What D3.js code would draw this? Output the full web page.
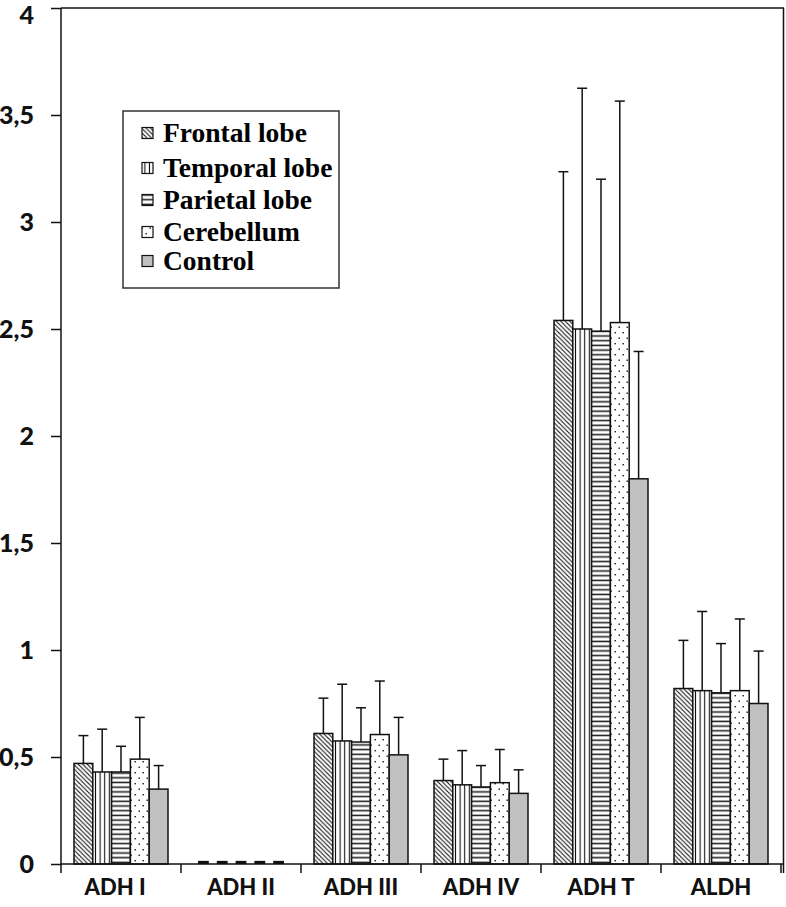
<!DOCTYPE html>
<meta charset="utf-8">
<style>
body { margin: 0; background: #fff; }
.tick text { font-family: Lato, "Open Sans", sans-serif; font-weight: 900; }
.legend text { font-family: "Liberation Serif", "DejaVu Serif", serif; font-weight: bold; font-size: 27.5px; }
</style>
<body>
<script src="https://d3js.org/d3.v7.min.js"></script>
<script>
// enzyme groups along the x axis
const categories = ["ADH I", "ADH II", "ADH III", "ADH IV", "ADH T", "ALDH"];
const series = ["Frontal lobe", "Temporal lobe", "Parietal lobe", "Cerebellum", "Control"];

// bar heights, one array per series (same order as categories)
const frontal    = [0.47, 0.01, 0.61, 0.39, 2.54, 0.82];
const temporal   = [0.43, 0.01, 0.575, 0.37, 2.50, 0.81];
const parietal   = [0.43, 0.01, 0.57, 0.36, 2.49, 0.80];
const cerebellum = [0.49, 0.01, 0.605, 0.38, 2.53, 0.81];
const control    = [0.35, 0.01, 0.51, 0.33, 1.80, 0.75];

// top of the (upward) error bar, null = no error bar
const frontalErr    = [0.60, null, 0.775, 0.49, 3.235, 1.045];
const temporalErr   = [0.63, null, 0.84, 0.53, 3.625, 1.18];
const parietalErr   = [0.55, null, 0.73, 0.46, 3.20, 1.03];
const cerebellumErr = [0.685, null, 0.855, 0.535, 3.565, 1.145];
const controlErr    = [0.46, null, 0.685, 0.44, 2.395, 0.995];

const yTicks = [0, 0.5, 1, 1.5, 2, 2.5, 3, 3.5, 4];

const values = [frontal, temporal, parietal, cerebellum, control];
const errs = [frontalErr, temporalErr, parietalErr, cerebellumErr, controlErr];

const W = 786, H = 907;
const mLeft = 61, mRight = 781, mTop = 8, mBottom = 864;

const svg = d3.select("body").append("svg")
    .attr("width", W).attr("height", H);

// fill patterns
const defs = svg.append("defs");
const p1 = defs.append("pattern").attr("id", "pat0")
    .attr("patternUnits", "userSpaceOnUse").attr("width", 4.5).attr("height", 4.5);
p1.append("rect").attr("width", 4.5).attr("height", 4.5).attr("fill", "#fff");
p1.append("path").attr("d", "M-1,-1 L5.5,5.5 M-1,3.5 L1,5.5 M3.5,-1 L5.5,1")
    .attr("stroke", "#111").attr("stroke-width", 1.1);

const p2 = defs.append("pattern").attr("id", "pat1")
    .attr("patternUnits", "userSpaceOnUse").attr("width", 4.6).attr("height", 10);
p2.append("rect").attr("width", 4.6).attr("height", 10).attr("fill", "#fff");
p2.append("line").attr("x1", 2.3).attr("x2", 2.3).attr("y1", 0).attr("y2", 10)
    .attr("stroke", "#111").attr("stroke-width", 1.1);

const p3 = defs.append("pattern").attr("id", "pat2")
    .attr("patternUnits", "userSpaceOnUse").attr("width", 10).attr("height", 4.7);
p3.append("rect").attr("width", 10).attr("height", 4.7).attr("fill", "#fff");
p3.append("line").attr("x1", 0).attr("x2", 10).attr("y1", 2.3).attr("y2", 2.3)
    .attr("stroke", "#222").attr("stroke-width", 1.6);

const p4 = defs.append("pattern").attr("id", "pat3")
    .attr("patternUnits", "userSpaceOnUse").attr("width", 8).attr("height", 11);
p4.append("rect").attr("width", 8).attr("height", 11).attr("fill", "#fff");
p4.append("rect").attr("x", 1.5).attr("y", 2).attr("width", 1.4).attr("height", 1.4).attr("fill", "#111");
p4.append("rect").attr("x", 5.5).attr("y", 7.5).attr("width", 1.4).attr("height", 1.4).attr("fill", "#111");

const fills = ["url(#pat0)", "url(#pat1)", "url(#pat2)", "url(#pat3)", "#c0c0c0"];

// scales
const x0 = d3.scaleBand().domain(categories).range([mLeft, mRight]);
const x1 = d3.scaleBand().domain(series).range([13, 107]);
const y = d3.scaleLinear().domain([0, 4]).range([mBottom, mTop]);

// frame: top and right lines
svg.append("line").attr("x1", mLeft).attr("x2", 784).attr("y1", mTop).attr("y2", mTop)
    .attr("stroke", "#111").attr("stroke-width", 1.5);
svg.append("line").attr("x1", 783.5).attr("x2", 783.5).attr("y1", mTop).attr("y2", 873)
    .attr("stroke", "#111").attr("stroke-width", 1.5);

// y axis
const yAxis = svg.append("g").attr("transform", "translate(" + mLeft + ",0)")
    .call(d3.axisLeft(y).tickValues(yTicks).tickSize(10).tickPadding(17)
        .tickFormat(d => String(d).replace(".", ",")));
yAxis.selectAll("path, line").attr("stroke", "#111").attr("stroke-width", 1.5);
yAxis.select(".domain").attr("d", "M0," + mTop + "V" + mBottom);
yAxis.selectAll(".tick text").attr("font-size", 25).attr("fill", "#111");
yAxis.selectAll(".tick text").filter(d => d === 4).attr("dy", "0.62em");

// bars
const groups = svg.append("g").selectAll("g")
  .data(categories)
  .join("g")
    .attr("transform", d => "translate(" + x0(d) + ",0)");

groups.each(function(cat, ci) {
  const g = d3.select(this);
  series.forEach(function(s, si) {
    const v = values[si][ci];
    const e = errs[si][ci];
    const cx = x1(s) + x1.bandwidth() / 2;
    if (e != null) {
      g.append("line").attr("x1", cx).attr("x2", cx)
          .attr("y1", y(v)).attr("y2", y(e))
          .attr("stroke", "#111").attr("stroke-width", 1.5);
      g.append("line").attr("x1", cx - 5).attr("x2", cx + 5)
          .attr("y1", y(e)).attr("y2", y(e))
          .attr("stroke", "#111").attr("stroke-width", 1.5);
    }
    if (e == null) {
      // almost zero: drawn as a short dash on the baseline
      g.append("rect").attr("x", x1(s) + 4).attr("width", x1.bandwidth() - 8)
          .attr("y", y(v) - 1).attr("height", mBottom - y(v) + 1)
          .attr("fill", "#111");
    } else {
      g.append("rect").attr("x", x1(s)).attr("width", x1.bandwidth())
          .attr("y", y(v)).attr("height", mBottom - y(v))
          .attr("fill", fills[si]).attr("stroke", "#111").attr("stroke-width", 1.5);
    }
  });
});

// x axis
const xAxis = svg.append("g").attr("transform", "translate(0," + mBottom + ")")
    .call(d3.axisBottom(x0).tickSize(0).tickPadding(15));
xAxis.select(".domain").attr("d", "M" + mLeft + ",0H" + 784).attr("stroke", "#111").attr("stroke-width", 1.5);
xAxis.selectAll(".tick text").attr("font-size", 22).attr("fill", "#111");
xAxis.selectAll(".tick text").filter(d => d === "ADH I").attr("dx", -6);
xAxis.selectAll(".sep")
  .data(categories.concat([null]))
  .join("line")
    .attr("class", "sep")
    .attr("x1", (d, i) => i < categories.length ? x0(d) : mRight)
    .attr("x2", (d, i) => i < categories.length ? x0(d) : mRight)
    .attr("y1", 0).attr("y2", 9)
    .attr("stroke", "#111").attr("stroke-width", 1.5);

// legend
const legend = svg.append("g").attr("class", "legend");
legend.append("rect").attr("x", 123).attr("y", 111).attr("width", 216).attr("height", 177)
    .attr("fill", "#fff").attr("stroke", "#333").attr("stroke-width", 1.5);
const legendY = [133, 168, 200, 232, 261];
series.forEach(function(s, i) {
  legend.append("rect").attr("x", 142).attr("y", legendY[i] - 5.5).attr("width", 11).attr("height", 11)
      .attr("fill", fills[i]).attr("stroke", "#111").attr("stroke-width", 1.2);
  legend.append("text").attr("x", 163).attr("y", legendY[i]).attr("dy", "0.33em")
      .attr("fill", "#000").text(s);
});
</script>
</body>
